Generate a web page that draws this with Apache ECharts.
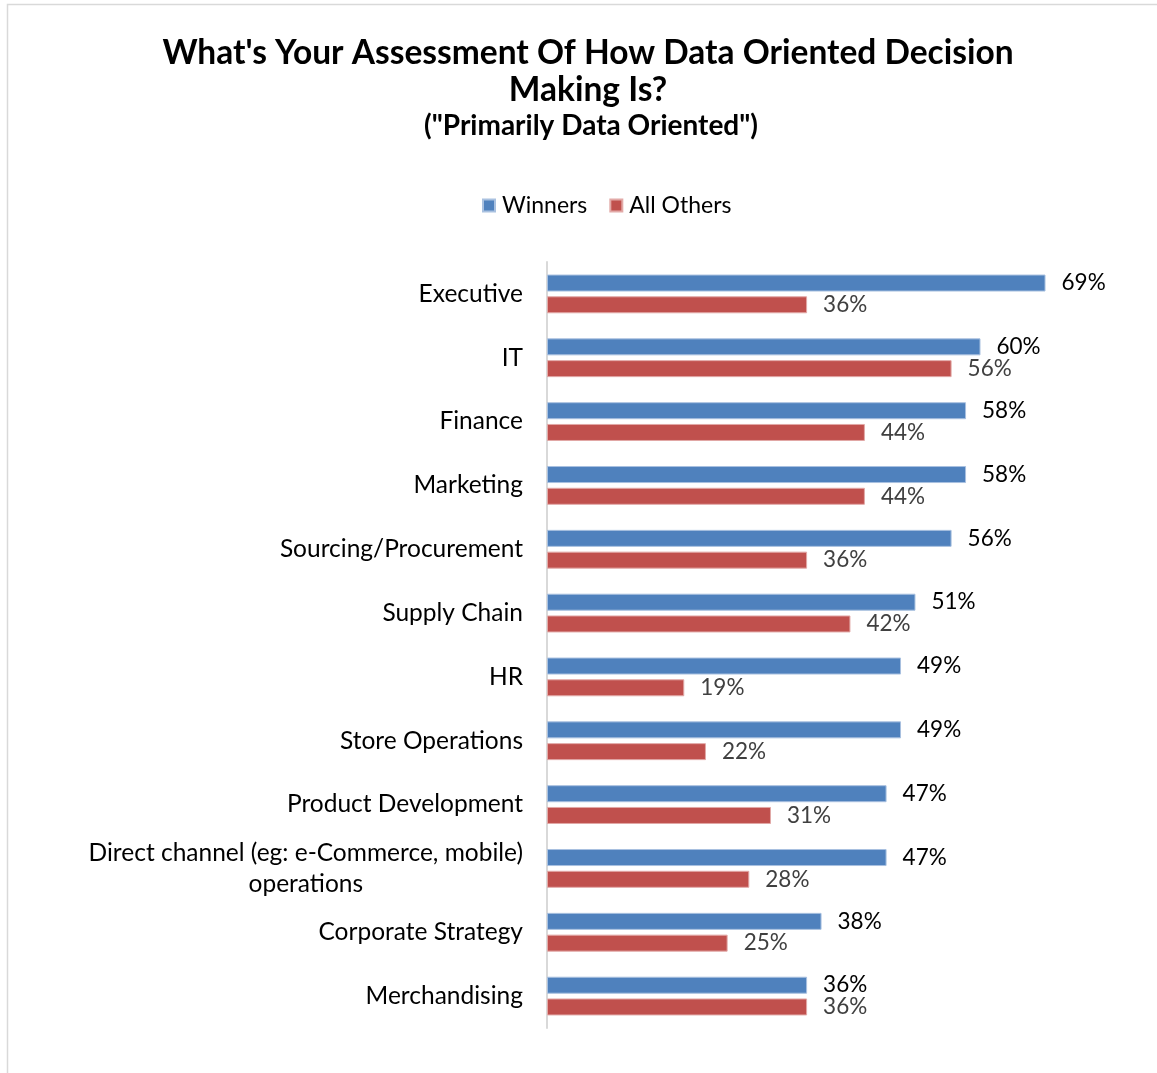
<!DOCTYPE html>
<html>
<head>
<meta charset="utf-8">
<script src="https://cdn.jsdelivr.net/npm/echarts@6/dist/echarts.min.js"></script>
<style>
  html, body { margin: 0; padding: 0; background: #fff; }
  #chart { width: 1157px; height: 1073px; }
</style>
</head>
<body>
<div id="chart"></div>
<script>
const categories = [
  'Executive', 'IT', 'Finance', 'Marketing', 'Sourcing/Procurement', 'Supply Chain',
  'HR', 'Store Operations', 'Product Development',
  'Direct channel (eg: e-Commerce, mobile)\noperations',
  'Corporate Strategy', 'Merchandising',
];
const winners = [69, 60, 58, 58, 56, 51, 49, 49, 47, 47, 38, 36];
const allOthers = [36, 56, 44, 44, 36, 42, 19, 22, 31, 28, 25, 36];

const font = 'Lato, "Open Sans", sans-serif';
const chart = echarts.init(document.getElementById('chart'));

const labelFor = (color) => ({
  show: true,
  position: 'right',
  distance: 16,
  formatter: '{c}%',
  fontFamily: font,
  fontSize: 22.5,
  color,
});

chart.setOption({
  animation: false,
  graphic: [
    {
      type: 'rect',
      shape: { x: 7.5, y: 4.5, width: 1200, height: 1200 },
      style: { fill: 'none', stroke: '#d9d9d9', lineWidth: 1.5 },
    },
  ],
  title: [
    {
      text: "What's Your Assessment Of How Data Oriented Decision\nMaking Is?",
      left: 583,
      top: 30,
      textAlign: 'center',
      textStyle: { fontFamily: font, fontSize: 33.5, fontWeight: 'bold', color: '#000', lineHeight: 37 },
    },
    {
      text: '("Primarily Data Oriented")',
      left: 586,
      top: 107,
      textAlign: 'center',
      textStyle: { fontFamily: font, fontSize: 28, fontWeight: 'bold', color: '#000' },
    },
  ],
  legend: {
    top: 189,
    left: 477,
    itemWidth: 12,
    itemHeight: 12,
    itemGap: 22,
    icon: 'rect',
    textStyle: { fontFamily: font, fontSize: 23, color: '#000', padding: [0, 0, 0, 2] },
    data: ['Winners', 'All Others'],
  },
  grid: { left: 547, right: 32, top: 262, bottom: 45, containLabel: false },
  xAxis: {
    type: 'value',
    min: 0,
    max: 80,
    show: false,
  },
  yAxis: {
    type: 'category',
    inverse: true,
    data: categories,
    axisTick: { show: false },
    axisLine: { lineStyle: { color: '#d9d9d9', width: 2 } },
    axisLabel: {
      margin: 24,
      fontFamily: font,
      fontSize: 24.5,
      color: '#000',
      lineHeight: 31,
      formatter: (v) => v.split('\n').map((s) => '{c|' + s + '}').join('\n'),
      rich: { c: { align: 'center', fontFamily: font, fontSize: 24.5, color: '#000', lineHeight: 31 } },
    },
  },
  series: [
    {
      name: 'Winners',
      type: 'bar',
      data: winners,
      barWidth: 17,
      barGap: '28%',
      itemStyle: { color: '#4F81BD', borderColor: '#a9c1e0', borderWidth: 1 },
      label: labelFor('#000'),
    },
    {
      name: 'All Others',
      type: 'bar',
      data: allOthers,
      barWidth: 17,
      barGap: '28%',
      itemStyle: { color: '#C0504D', borderColor: '#e2a9a7', borderWidth: 1 },
      label: labelFor('#404040'),
    },
  ],
});
</script>
</body>
</html>
